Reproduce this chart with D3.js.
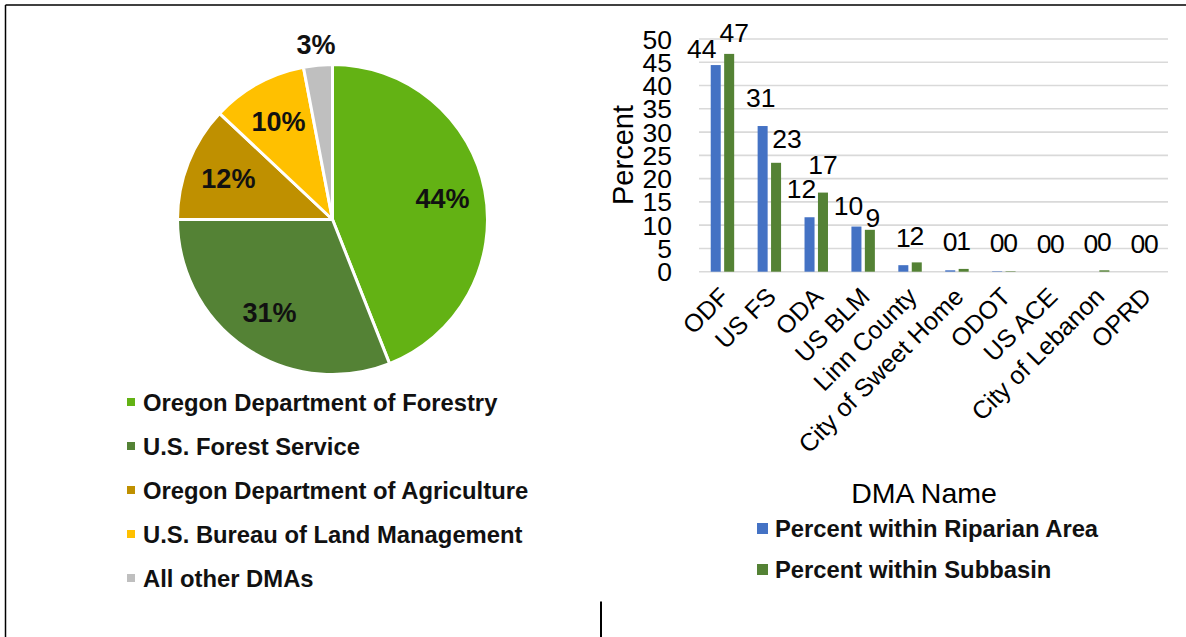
<!DOCTYPE html>
<html><head><meta charset="utf-8">
<script src="https://cdn.jsdelivr.net/npm/d3@7"></script>
<style>
body{margin:0;background:#fff}
svg{display:block}
text{font-family:"Liberation Sans",Arial,Helvetica,sans-serif;fill:#000}
</style>
</head><body>
<svg id="c" width="1186" height="637"></svg>
<script>
// ---------- data ----------
const pieLabels = ["Oregon Department of Forestry","U.S. Forest Service","Oregon Department of Agriculture","U.S. Bureau of Land Management","All other DMAs"];
const pieValues = [44,31,12,10,3];
const pieColors = ["#63B214","#548235","#BF9000","#FFC000","#BFBFBF"];

const categories = ["ODF","US FS","ODA","US BLM","Linn County","City of Sweet Home","ODOT","US ACE","City of Lebanon","OPRD"];
const riparian = [44.4,31.3,11.7,9.7,1.4,0.3,0.1,0,0,0];
const subbasin = [46.8,23.4,17.0,9.0,2.0,0.6,0.1,0,0.3,0];
const seriesNames = ["Percent within Riparian Area","Percent within Subbasin"];
const seriesColors = ["#4472C4","#548235"];
const yTicks = [0,5,10,15,20,25,30,35,40,45,50];
const yTitle = "Percent";
const xTitle = "DMA Name";

// ---------- drawing ----------
const svg = d3.select("#c");

// frame lines
svg.append("line").attr("x1",5.5).attr("y1",5).attr("x2",1186).attr("y2",5).attr("stroke","#000").attr("stroke-width",1.5);
svg.append("line").attr("x1",5.5).attr("y1",5).attr("x2",5.5).attr("y2",637).attr("stroke","#000").attr("stroke-width",1.5);
svg.append("line").attr("x1",601).attr("y1",601.5).attr("x2",601).attr("y2",637).attr("stroke","#000").attr("stroke-width",2);

// ===== PIE =====
const pcx = 332.5, pcy = 219.5, R = 155;
const pie = d3.pie().sort(null).value(d => d)(pieValues);
const arc = d3.arc().innerRadius(0).outerRadius(R);
const labelArc = d3.arc().innerRadius(112).outerRadius(112);
const outArc = d3.arc().innerRadius(176).outerRadius(176);
const pg = svg.append("g").attr("transform",`translate(${pcx},${pcy})`);
pg.selectAll("path").data(pie).join("path")
  .attr("d",arc).attr("fill",(d,i)=>pieColors[i])
  .attr("stroke","#fff").attr("stroke-width",3).attr("stroke-linejoin","round");
pg.selectAll("text").data(pie).join("text")
  .attr("transform",(d,i)=>{const c=(pieValues[i]<5?outArc:labelArc).centroid(d);return `translate(${c[0]},${c[1]})`;})
  .attr("text-anchor","middle").attr("dy","0.35em")
  .style("font-size","27px").style("font-weight","bold").style("fill","#111")
  .text(d=>d.value+"%");

// pie legend
const pl = svg.append("g");
pieLabels.forEach((lab,i)=>{
  const by = 411 + i*44;
  pl.append("rect").attr("x",127).attr("y",by-13).attr("width",8).attr("height",8).attr("fill",pieColors[i]);
  pl.append("text").attr("x",143).attr("y",by).style("font-size","23.8px").style("font-weight","bold").style("fill","#111").text(lab);
});

// ===== BAR CHART =====
const x0 = d3.scaleBand().domain(categories).range([699,1168]).paddingInner(0.5).paddingOuter(0.25);
const x1 = d3.scaleBand().domain([0,1]).range([0,x0.bandwidth()]).paddingInner(0.254);
const y = d3.scaleLinear().domain([0,50]).range([271.7,39]);

const bg = svg.append("g");
bg.selectAll("line.grid").data(yTicks).join("line").attr("class","grid")
  .attr("x1",699).attr("x2",1168).attr("y1",d=>y(d)).attr("y2",d=>y(d))
  .attr("stroke","#D9D9D9").attr("stroke-width",1.6);

bg.selectAll("text.tick").data(yTicks).join("text").attr("class","tick")
  .attr("x",672).attr("y",d=>y(d)).attr("dy","0.36em").attr("text-anchor","end")
  .style("font-size","26.5px").text(d=>d);

const series = [riparian, subbasin];
// label nudges (layout only) [dx, dy] per series per category
const nudge = [
  [[-14,12],[-2,0],[-8,0],[-8,7],[0,1],[0,0],[0,0],[0,0],[0,0],[0,0]],
  [[5,7],[11,4],[0,0],[3,16],[0,2],[0,0],[0,0],[0,0],[0,0],[0,0]]
];
series.forEach((vals,s)=>{
  const g = bg.append("g");
  g.selectAll("rect").data(vals).join("rect")
    .attr("x",(d,i)=>x0(categories[i])+x1(s))
    .attr("width",x1.bandwidth())
    .attr("y",d=>y(d)).attr("height",d=>y(0)-y(d))
    .attr("fill",seriesColors[s]);
  g.selectAll("text").data(vals).join("text")
    .attr("x",(d,i)=>x0(categories[i])+x1(s)+x1.bandwidth()/2+nudge[s][i][0])
    .attr("y",(d,i)=>y(d)-19+nudge[s][i][1])
    .attr("text-anchor","middle").style("font-size","26.5px")
    .text(d=>Math.round(d));
});

// category labels
bg.selectAll("text.cat").data(categories).join("text").attr("class","cat")
  .attr("transform",d=>`translate(${x0(d)+x0.bandwidth()/2+2},292) rotate(-45)`)
  .attr("text-anchor","end").attr("dy","0.35em")
  .style("font-size","25px").text(d=>d);

// axis titles
svg.append("text").attr("transform","translate(633,155) rotate(-90)")
  .attr("text-anchor","middle").style("font-size","29px").text(yTitle);
svg.append("text").attr("x",924).attr("y",503).attr("text-anchor","middle")
  .style("font-size","28.5px").text(xTitle);

// bar legend
seriesNames.forEach((n,i)=>{
  const by = 537 + i*41;
  svg.append("rect").attr("x",757).attr("y",by-14).attr("width",11).attr("height",11).attr("fill",seriesColors[i]);
  svg.append("text").attr("x",775).attr("y",by).style("font-size","23.8px").style("font-weight","bold").style("fill","#111").text(n);
});
</script>
</body></html>
